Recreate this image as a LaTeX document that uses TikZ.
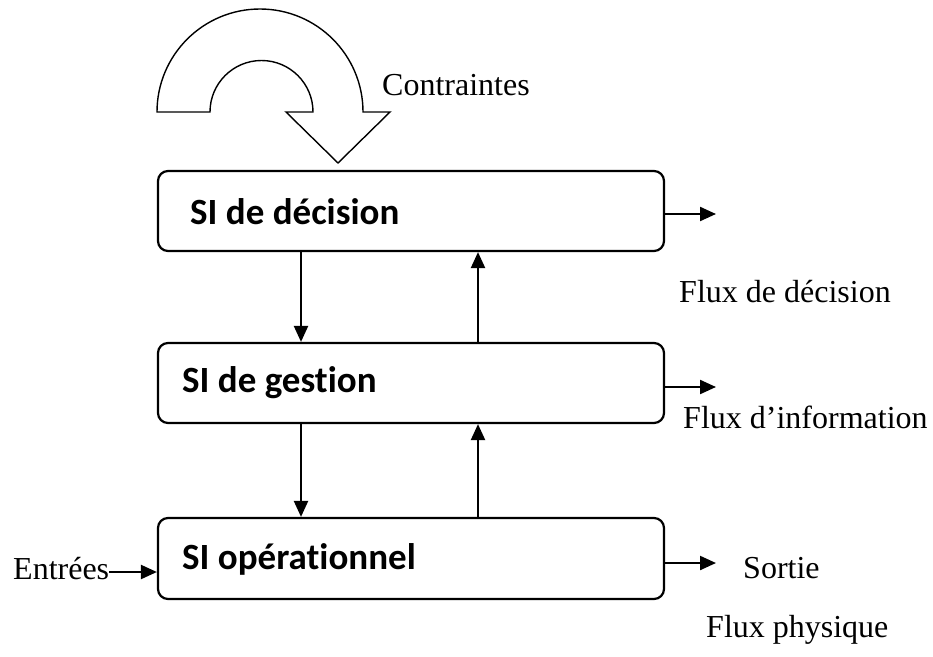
\documentclass[tikz,border=0pt]{standalone}
\usepackage{fontspec}
\setmainfont{Liberation Serif}
\newfontfamily\boxfont[Ligatures=NoCommon]{Carlito}
\usetikzlibrary{arrows.meta}

\begin{document}
\begin{tikzpicture}[x=1pt,y=-1pt,
  sibox/.style={draw, line width=2.2pt, rounded corners=10pt, inner sep=0pt, minimum width=506pt},
  flow/.style={line width=2.2pt, -{Triangle[length=16pt,width=14pt]}},
  lbl/.style={font=\fontsize{32}{38}\selectfont, inner sep=0pt, anchor=base west},
  boxlbl/.style={font=\boxfont\bfseries\fontsize{37}{44}\selectfont, inner sep=0pt, anchor=base west}]
\useasboundingbox (0,0) rectangle (933,656);

% the three levels of the information system
\node[sibox, minimum height=80pt] (dec) at (411,211) {};
\node[sibox, minimum height=80pt] (ges) at (411,383) {};
\node[sibox, minimum height=81pt] (op)  at (411,558.5) {};

\node[boxlbl] (dect) at (190,224) {SI de décision};
\node[boxlbl] (gest) at (182,392) {SI de gestion};
\node[boxlbl] (opt)  at (182,569) {SI opérationnel};

% flows between levels
\draw[flow] (301,0 |- dec.south) -- (301,0 |- ges.north);
\draw[flow] (478,0 |- ges.north) -- (478,0 |- dec.south);
\draw[flow] (301,0 |- ges.south) -- (301,0 |- op.north);
\draw[flow] (478,0 |- op.north) -- (478,0 |- ges.south);

% outgoing flows
\coordinate (decout) at (716,214);
\coordinate (gesout) at (716,387);
\coordinate (opout)  at (716,563);
\draw[flow] (dec.east |- decout) -- (decout);
\draw[flow] (ges.east |- gesout) -- (gesout);
\draw[flow] (op.east |- opout) -- (opout);

% inputs
\node[lbl] (ent) at (13,579) {Entrées};
\draw[flow] (ent.east |- 0,572) -- (op.west |- 0,572);

% labels
\node[lbl] (cont) at (382,95) {Contraintes};
\node[lbl] (fdec) at (679,302) {Flux de décision};
\node[lbl] (finf) at (683,428) {Flux d’information};
\node[lbl] (sort) at (743,578) {Sortie};
\node[lbl] (fphy) at (706,637) {Flux physique};

% constraints: curved block arrow
\draw[line width=1.4pt, line join=miter]
  (157,112) arc[start angle=180, end angle=0, radius=103pt]
  -- (390,112) -- (338,163) -- (286,112) -- (313,112)
  arc[start angle=0, end angle=180, radius=51.5pt] -- cycle;
\end{tikzpicture}
\end{document}
